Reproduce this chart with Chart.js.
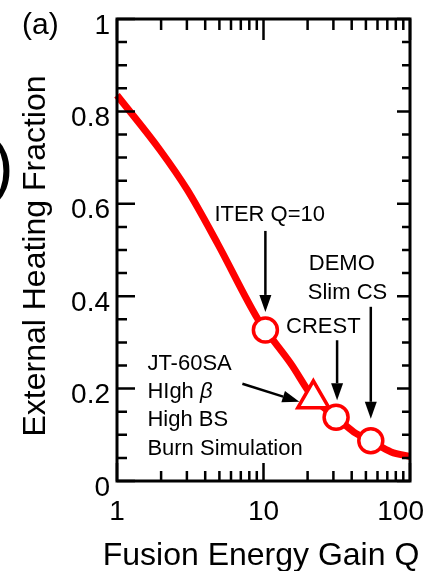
<!DOCTYPE html>
<html>
<head>
<meta charset="utf-8">
<script src="https://cdn.jsdelivr.net/npm/chart.js@4/dist/chart.umd.min.js"></script>
<style>
  html, body { margin: 0; padding: 0; background: #fff; }
  #wrap { width: 425px; height: 571px; position: relative; }
</style>
</head>
<body>
<div id="wrap"><canvas id="heating"></canvas></div>
<script>
// external heating fraction along the operating curve
var gainQ    = [1, 1.97, 3.02, 4.84, 9.25, 10.3, 15.3, 21.9, 31.3, 41.4, 54, 74.3, 100];
var heatFrac = [0.835, 0.716, 0.63, 0.515, 0.348, 0.327, 0.255, 0.18, 0.138, 0.106, 0.087, 0.063, 0.053];

// reactor design points (circles)
var machineQ    = [10.3, 31.3, 54];
var machineFrac = [0.327, 0.138, 0.087];

// JT-60SA burn simulation point (triangle)
var jtQ    = [21.9];
var jtFrac = [0.178];

var xTickValues = [1, 10, 100];
var xTickLabels = ['1', '10', '100'];
var yTickValues = [0, 0.2, 0.4, 0.6, 0.8, 1];
var yTickLabels = ['0', '0.2', '0.4', '0.6', '0.8', '1'];

var RED = '#ff0000';
var FONT = "'Liberation Sans', Arial, sans-serif";

function pts(xs, ys) {
  return xs.map(function (x, i) { return { x: x, y: ys[i] }; });
}

function arrow(ctx, x1, y1, x2, y2) {
  var ang = Math.atan2(y2 - y1, x2 - x1);
  var len = 17, half = 6;
  var bx = x2 - Math.cos(ang) * len, by = y2 - Math.sin(ang) * len;
  ctx.beginPath();
  ctx.moveTo(x1, y1);
  ctx.lineTo(bx, by);
  ctx.lineWidth = 2.5;
  ctx.stroke();
  ctx.beginPath();
  ctx.moveTo(x2, y2);
  ctx.lineTo(bx - Math.sin(ang) * half, by + Math.cos(ang) * half);
  ctx.lineTo(bx + Math.sin(ang) * half, by - Math.cos(ang) * half);
  ctx.closePath();
  ctx.fill();
}

var framePlugin = {
  id: 'frame',
  afterDraw: function (chart) {
    var ctx = chart.ctx;
    var a = chart.chartArea;
    var xs = chart.scales.x, ys = chart.scales.y;
    ctx.save();
    ctx.strokeStyle = '#000';
    ctx.fillStyle = '#000';
    ctx.lineCap = 'butt';

    // box
    ctx.lineWidth = 3;
    ctx.strokeRect(a.left, a.top, a.right - a.left, a.bottom - a.top);

    // x ticks, inward on bottom and top
    var xMinor = [];
    [1, 10].forEach(function (d) { for (var k = 2; k <= 9; k++) xMinor.push(k * d); });
    ctx.lineWidth = 2.5;
    function xTick(v, lenB, lenT) {
      var px = xs.getPixelForValue(v);
      ctx.beginPath();
      ctx.moveTo(px, a.bottom); ctx.lineTo(px, a.bottom - lenB);
      ctx.moveTo(px, a.top); ctx.lineTo(px, a.top + lenT);
      ctx.stroke();
    }
    xMinor.forEach(function (v) { xTick(v, 10, 11); });
    xTickValues.forEach(function (v) { xTick(v, 18, 21); });

    // y ticks, inward on left and right
    function yTick(v, lenL, lenR) {
      var py = ys.getPixelForValue(v);
      ctx.beginPath();
      ctx.moveTo(a.left, py); ctx.lineTo(a.left + lenL, py);
      ctx.moveTo(a.right, py); ctx.lineTo(a.right - lenR, py);
      ctx.stroke();
    }
    for (var i = 1; i < 20; i++) { if (i % 4) yTick(i * 0.05, 10, 8); }
    yTickValues.forEach(function (v) { yTick(v, 18, 13); });

    // tick labels
    ctx.font = '28px ' + FONT;
    ctx.textBaseline = 'alphabetic';
    ctx.textAlign = 'right';
    yTickValues.forEach(function (v, i) {
      ctx.fillText(yTickLabels[i], a.left - 7, ys.getPixelForValue(v) + 14.5);
    });
    xTickValues.forEach(function (v, i) {
      var px = xs.getPixelForValue(v);
      var w = ctx.measureText(xTickLabels[i]).width;
      var right = Math.min(px + w / 2, chart.width - 1);
      ctx.textAlign = 'right';
      ctx.fillText(xTickLabels[i], right, 520);
    });

    // axis titles
    ctx.font = '32px ' + FONT;
    ctx.textAlign = 'center';
    ctx.fillText('Fusion Energy Gain Q', 261, 565);
    ctx.save();
    ctx.translate(45, 256);
    ctx.rotate(-Math.PI / 2);
    ctx.fillText('External Heating Fraction', 0, 0);
    ctx.restore();

    // panel tag and the clipped bracket at the left edge
    ctx.font = '30px ' + FONT;
    ctx.textAlign = 'left';
    ctx.fillText('(a)', 22, 34);
    ctx.font = '68px ' + FONT;
    ctx.fillText(')', -9, 189);

    // annotations around the markers
    var m = chart.getDatasetMeta(1).data;
    var t = chart.getDatasetMeta(2).data[0];
    ctx.font = '22px ' + FONT;
    ctx.textAlign = 'left';

    var iter = m[0];
    ctx.fillText('ITER Q=10', iter.x - 51, iter.y - 109);
    arrow(ctx, iter.x, iter.y - 99, iter.x, iter.y - 18);

    var crest = m[1];
    ctx.fillText('CREST', crest.x - 50, crest.y - 84);
    arrow(ctx, crest.x + 1, crest.y - 77, crest.x + 1, crest.y - 17);

    var demo = m[2];
    ctx.fillText('DEMO', demo.x - 62, demo.y - 171);
    ctx.fillText('Slim CS', demo.x - 63, demo.y - 142);
    arrow(ctx, demo.x, demo.y - 134, demo.x, demo.y - 22);

    var lx = t.x - 166;
    ctx.fillText('JT-60SA', lx, t.y - 29);
    ctx.fillText('HIgh ', lx, t.y - 1);
    var hw = ctx.measureText('HIgh ').width;
    ctx.font = 'italic 22px ' + FONT;
    ctx.fillText('\u03B2', lx + hw, t.y - 1);
    ctx.font = '22px ' + FONT;
    ctx.fillText('High BS', lx, t.y + 27);
    ctx.fillText('Burn Simulation', lx, t.y + 56);
    arrow(ctx, t.x - 71, t.y - 15, t.x - 14, t.y + 3);

    ctx.restore();
  }
};

new Chart('heating', {
  type: 'line',
  data: {
    datasets: [
      {
        data: pts(gainQ, heatFrac),
        borderColor: RED,
        borderWidth: 7,
        pointRadius: 0,
        cubicInterpolationMode: 'monotone',
        clip: false,
        order: 3
      },
      {
        data: pts(machineQ, machineFrac),
        showLine: false,
        pointStyle: 'circle',
        pointRadius: 12,
        pointBorderWidth: 3.5,
        pointBackgroundColor: '#fff',
        pointBorderColor: RED,
        order: 1
      },
      {
        data: pts(jtQ, jtFrac),
        showLine: false,
        pointStyle: 'triangle',
        pointRadius: 18,
        pointBorderWidth: 3.5,
        pointBackgroundColor: '#fff',
        pointBorderColor: RED,
        order: 1
      }
    ]
  },
  options: {
    responsive: true,
    maintainAspectRatio: false,
    animation: false,
    events: [],
    layout: { autoPadding: false, padding: { left: 0, right: 15, top: 19, bottom: 0 } },
    plugins: {
      legend: { display: false },
      tooltip: { enabled: false }
    },
    scales: {
      x: {
        type: 'logarithmic',
        min: 1,
        max: 100,
        grid: { display: false },
        border: { display: false },
        ticks: { display: false },
        afterFit: function (s) { s.height = 90; }
      },
      y: {
        type: 'linear',
        min: 0,
        max: 1,
        grid: { display: false },
        border: { display: false },
        ticks: { display: false },
        afterFit: function (s) { s.width = 117; }
      }
    }
  },
  plugins: [framePlugin]
});
</script>
</body>
</html>
